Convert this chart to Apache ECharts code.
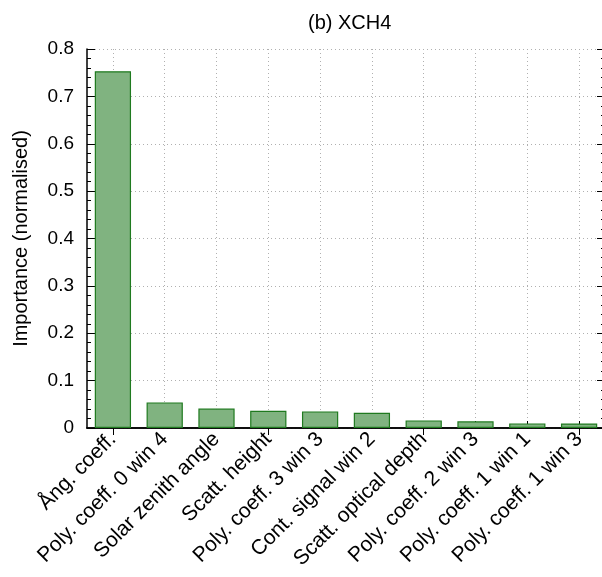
<!DOCTYPE html>
<html>
<head>
<meta charset="utf-8">
<script src="https://cdn.jsdelivr.net/npm/echarts@6/dist/echarts.min.js"></script>
<style>html,body{margin:0;padding:0;background:#fff}#c{width:602px;height:577px}</style>
</head>
<body>
<div id="c"></div>
<script>
const categories = ['Ång. coeff.', 'Poly. coeff. 0 win 4', 'Solar zenith angle', 'Scatt. height', 'Poly. coeff. 3 win 3', 'Cont. signal win 2', 'Scatt. optical depth', 'Poly. coeff. 2 win 3', 'Poly. coeff. 1 win 1', 'Poly. coeff. 1 win 3'];
const importance = [0.753, 0.054, 0.041, 0.0365, 0.035, 0.032, 0.016, 0.014, 0.0097, 0.0095];
const titleText = '(b) XCH4';
const yName = 'Importance (normalised)';

const chart = echarts.init(document.getElementById('c'), null, {renderer: 'canvas'});
const font = 'Liberation Sans, Arial, sans-serif';
const gridLine = {show: true, lineStyle: {color: '#b0b0b0', type: [1, 3], width: 1}};
chart.setOption({
  animation: false,
  backgroundColor: '#fff',
  textStyle: {fontFamily: font},
  title: {text: titleText, left: 303, top: 8, textStyle: {fontFamily: font, fontSize: 20, fontWeight: 'normal', color: '#000'}},
  grid: {left: 87, right: -3, top: 49, bottom: 149, containLabel: false, outerBoundsMode: 'none'},
  xAxis: [{
    type: 'category', data: categories, position: 'bottom',
    axisLine: {show: true, lineStyle: {color: '#000', width: 1.5}},
    axisTick: {show: true, inside: true, length: 7, alignWithLabel: true, lineStyle: {color: '#000', width: 1}},
    splitLine: Object.assign({alignWithLabel: true}, gridLine),
    axisLabel: {rotate: 45, fontSize: 21, color: '#000', margin: 8, fontFamily: font, interval: 0}
  }, {
    type: 'category', data: categories, position: 'top',
    axisLine: {show: true, lineStyle: {color: '#000', width: 1.5}},
    axisTick: {show: true, inside: true, length: 7, alignWithLabel: true, lineStyle: {color: '#000', width: 1}},
    axisLabel: {show: false}, splitLine: {show: false}
  }],
  yAxis: [{
    type: 'value', min: 0, max: 0.8, interval: 0.1, position: 'left',
    name: yName, nameLocation: 'middle', nameGap: 56, nameRotate: 90,
    nameTextStyle: {fontSize: 20, color: '#000', fontFamily: font},
    axisLine: {show: true, lineStyle: {color: '#000', width: 1.5}},
    axisTick: {show: true, inside: true, length: 8, lineStyle: {color: '#000'}},
    minorTick: {show: true, splitNumber: 5, length: 4, lineStyle: {color: '#000'}},
    splitLine: gridLine,
    axisLabel: {fontSize: 19, color: '#000', margin: 13, fontFamily: font}
  }, {
    type: 'value', min: 0, max: 0.8, interval: 0.1, position: 'right',
    axisLine: {show: true, lineStyle: {color: '#000', width: 1.5}},
    axisTick: {show: true, inside: true, length: 8, lineStyle: {color: '#000'}},
    minorTick: {show: true, splitNumber: 5, length: 4, lineStyle: {color: '#000'}},
    splitLine: {show: false}, axisLabel: {show: false}
  }],
  series: [{
    type: 'bar', data: importance, xAxisIndex: 0, yAxisIndex: 0,
    barCategoryGap: '30%',
    itemStyle: {color: '#80b380', borderColor: '#1f7a1f', borderWidth: 1.2}
  }]
});
</script>
</body>
</html>
